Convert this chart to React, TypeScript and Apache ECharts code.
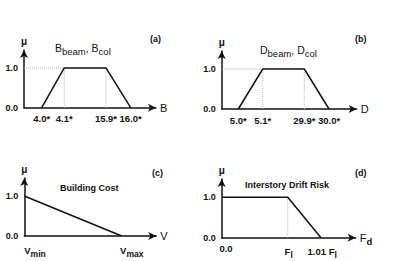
import React, { useEffect, useRef } from "react";
import * as echarts from "echarts";

// Panel (a): breakpoints in display units along the axis (0..100)
const aX = [13.4, 30.5, 62.1, 80.8];
const aMu = [0, 1, 1, 0];
const aLabels = ["4.0*", "4.1*", "15.9*", "16.0*"];

// Panel (b)
const bX = [12.3, 30.4, 61.2, 79.5];
const bMu = [0, 1, 1, 0];
const bLabels = ["5.0*", "5.1*", "29.9*", "30.0*"];

// Panel (c)
const cX = [0, 73.8];
const cMu = [1, 0];
const cLabelPos = [8.1, 81.4];
const cLabels = ["{n|V}{s|min}", "{n|V}{s|max}"];

// Panel (d)
const dX = [0, 49.3, 74.1];
const dMu = [1, 1, 0];
const dLabelPos = [3.2, 50, 75];
const dLabels = ["{n|0.0}", "{n|F}{s|l}", "{n|1.01 F}{s|l}"];

const yTicks = [0, 1];

const FONT = "Liberation Sans, Arial, sans-serif";
const TXT = "#111";

const rich = {
  n: { fontSize: 9.5, fontWeight: "bold", color: TXT, fontFamily: FONT },
  s: { fontSize: 8.5, fontWeight: "bold", color: TXT, fontFamily: FONT, padding: [7, 0, 0, 0] },
};

export default function App() {
  const ref = useRef<HTMLDivElement>(null);
  useEffect(() => {
    if (!ref.current) return;
    const chart = echarts.init(ref.current, null, { renderer: "svg" });

    const grids = [
      { left: 24, top: 50, width: 132, height: 57.7 },
      { left: 221.7, top: 51, width: 135, height: 58 },
      { left: 24.3, top: 178, width: 132, height: 58 },
      { left: 221.7, top: 179, width: 134, height: 58.7 },
    ];

    const xNames = ["B", "D", "V", "{n|F}{s|d}"];
    const xLabelVals = [aX, bX, cLabelPos, dLabelPos];
    const xLabelTexts = [aLabels, bLabels, cLabels, dLabels];

    const xAxis = grids.map((_, i) => ({
      type: "value",
      gridIndex: i,
      min: 0,
      max: 100,
      name: xNames[i],
      nameLocation: "end",
      nameGap: 4,
      nameTextStyle: {
        fontSize: 11,
        color: TXT,
        fontFamily: FONT,
        rich: {
          n: { fontSize: 11, color: TXT, fontFamily: FONT },
          s: { fontSize: 9.5, fontWeight: "bold", color: TXT, fontFamily: FONT, padding: [7, 0, 0, 0] },
        },
      },
      axisLine: {
        show: true,
        symbol: ["none", "arrow"],
        symbolSize: [6, 8],
        lineStyle: { color: "#111", width: 1.5 },
      },
      axisTick: { show: false },
      splitLine: { show: false },
      axisLabel: {
        show: true,
        customValues: xLabelVals[i],
        margin: 6,
        fontSize: 9.5,
        fontWeight: "bold",
        color: TXT,
        fontFamily: FONT,
        formatter: (v: number) => {
          const idx = xLabelVals[i].findIndex((p) => Math.abs(p - v) < 1e-6);
          return idx >= 0 ? xLabelTexts[i][idx] : "";
        },
        rich: i >= 2 ? rich : undefined,
      },
    }));

    const yAxis = grids.map((_, i) => ({
      type: "value",
      gridIndex: i,
      min: 0,
      max: 1.45,
      name: "μ",
      nameLocation: "end",
      nameGap: 4,
      nameTextStyle: { fontSize: 10, fontWeight: "bold", color: TXT, fontFamily: FONT },
      axisLine: {
        show: true,
        symbol: ["none", "arrow"],
        symbolSize: [6, 8],
        lineStyle: { color: "#111", width: 1.5 },
      },
      axisTick: { show: false },
      splitLine: { show: false },
      axisLabel: {
        show: true,
        customValues: yTicks,
        margin: 6,
        fontSize: 9,
        fontWeight: "bold",
        color: TXT,
        fontFamily: FONT,
        formatter: (v: number) => v.toFixed(1),
      },
    }));

    const mainLine = (i: number, xs: number[], ys: number[]) => ({
      type: "line",
      xAxisIndex: i,
      yAxisIndex: i,
      data: xs.map((x, k) => [x, ys[k]]),
      symbol: "none",
      lineStyle: { color: "#111", width: 1.5 },
      z: 3,
    });
    const guide = (i: number, pts: number[][]) => ({
      type: "line",
      xAxisIndex: i,
      yAxisIndex: i,
      data: pts,
      symbol: "none",
      lineStyle: { color: "#b8b8b8", width: 1, type: "dotted" },
      z: 1,
    });

    const series = [
      mainLine(0, aX, aMu),
      guide(0, [[0, 1], [aX[1], 1]]),
      guide(0, [[aX[1], 0], [aX[1], 1]]),
      guide(0, [[aX[2], 0], [aX[2], 1]]),
      mainLine(1, bX, bMu),
      guide(1, [[0, 1], [bX[1], 1]]),
      guide(1, [[bX[1], 0], [bX[1], 1]]),
      guide(1, [[bX[2], 0], [bX[2], 1]]),
      mainLine(2, cX, cMu),
      mainLine(3, dX, dMu),
      guide(3, [[dX[1], 0], [dX[1], 1]]),
    ];

    const titleRich = {
      n: { fontSize: 10.5, fontWeight: "normal", color: TXT, fontFamily: FONT },
      s: { fontSize: 9.5, fontWeight: "normal", color: TXT, fontFamily: FONT, padding: [7, 0, 0, 0] },
    };
    const small = { fontSize: 9, fontWeight: "bold", color: TXT, fontFamily: FONT };

    const title = [
      { text: "{n|B}{s|beam}{n|, B}{s|col}", left: 55, top: 39, textStyle: { rich: titleRich } },
      { text: "{n|D}{s|beam}{n|, D}{s|col}", left: 260, top: 41, textStyle: { rich: titleRich } },
      { text: "Building Cost", left: 60, top: 183, textStyle: small },
      { text: "Interstory Drift Risk", left: 245, top: 180, textStyle: small },
      { text: "(a)", left: 150, top: 34, textStyle: small },
      { text: "(b)", left: 355, top: 34, textStyle: small },
      { text: "(c)", left: 152, top: 168, textStyle: small },
      { text: "(d)", left: 355, top: 168, textStyle: small },
    ].map((t) => ({ ...t, padding: 0 }));

    chart.setOption({
      animation: false,
      backgroundColor: "#ffffff",
      title,
      grid: grids,
      xAxis,
      yAxis,
      series,
    });
    return () => chart.dispose();
  }, []);
  return (
    <div
      ref={ref}
      style={{ position: "absolute", left: 0, top: 0, width: 415, height: 261 }}
    />
  );
}
